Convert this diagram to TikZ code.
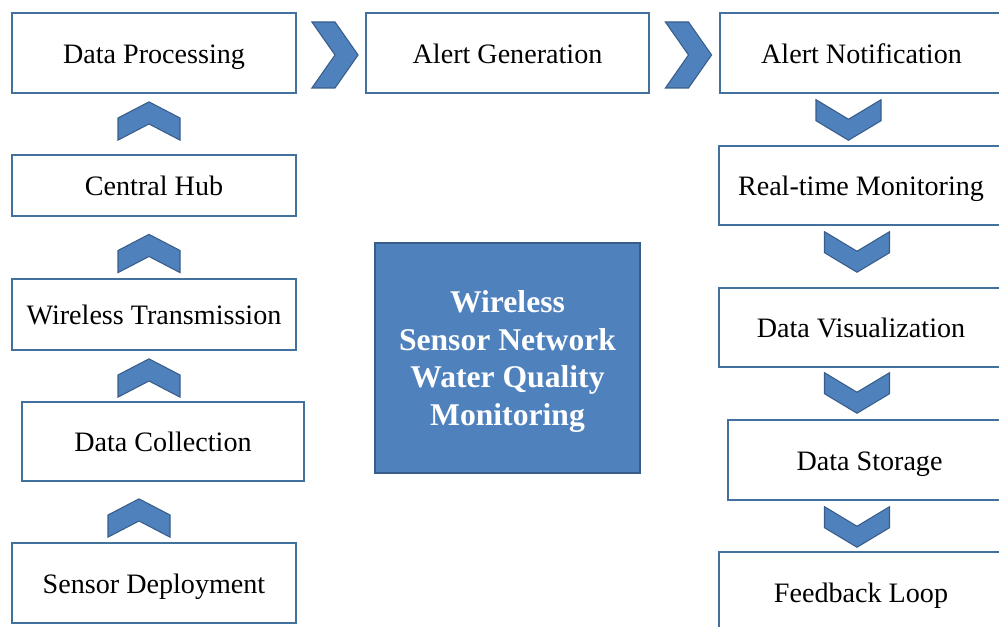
\documentclass[tikz,border=0pt]{standalone}
\usepackage{fontspec}
\setmainfont{Liberation Serif}
\usetikzlibrary{shapes.symbols}
\definecolor{boxline}{HTML}{41719C}
\definecolor{chevblue}{HTML}{4F81BD}
\definecolor{chevline}{HTML}{385D8A}
\begin{document}
\begin{tikzpicture}[
        stepbox/.style={rectangle, draw=boxline, line width=1.2pt, fill=white, minimum width=5.68cm, minimum height=1.6cm, inner sep=0pt, text height=12pt, text depth=0.6pt, font=\fontsize{16}{19}\selectfont},
        corebox/.style={rectangle, draw=chevline, line width=1.2pt, fill=chevblue, minimum width=5.3cm, minimum height=4.6cm, text=white, align=center, text depth=-1pt, font=\fontsize{18}{21.5}\selectfont\bfseries},
        chevron/.style={signal, draw=chevline, fill=chevblue, line width=0.6pt, inner sep=0pt},
        chevup/.style={chevron, signal to=north, signal from=south, minimum width=1.24cm, minimum height=0.12cm, signal pointer angle=125},
        chevdown/.style={chevron, signal to=south, signal from=north, minimum width=1.3cm, minimum height=0.03cm, signal pointer angle=118},
        chevright/.style={chevron, signal to=east, signal from=west, minimum width=0.92cm, minimum height=1.32cm, signal pointer angle=110}
    ]
        \useasboundingbox (0,0) rectangle (19.98,12.54);
        \clip (0,0) rectangle (19.98,12.54);

        % Left column, bottom to top
        \node[stepbox] (sd) at (3.08,0.88) {Sensor Deployment};
        \node[stepbox, minimum width=5.64cm, minimum height=1.58cm] (dc) at (3.26,3.71) {Data Collection};
        \node[stepbox, minimum height=1.42cm] (wt) at (3.08,6.25) {Wireless Transmission};
        \node[stepbox, minimum height=1.22cm] (hub) at (3.08,8.83) {Central Hub};
        \node[stepbox] (dp) at (3.08,11.48) {Data Processing};
        \node[chevup] (up4) at (2.78,2.18) {};
        \node[chevup] (up3) at (2.98,4.98) {};
        \node[chevup] (up2) at (2.98,7.47) {};
        \node[chevup] (up1) at (2.98,10.12) {};

        % Top row
        \node[stepbox, minimum width=5.66cm] (ag) at (10.15,11.48) {Alert Generation};
        \node[stepbox, minimum width=5.66cm] (an) at (17.23,11.48) {Alert Notification};
        \node[chevright] (rt1) at (6.70,11.44) {};
        \node[chevright] (rt2) at (13.77,11.44) {};

        % Right column, top to bottom
        \node[stepbox, minimum height=1.58cm] (rtm) at (17.22,8.83) {Real-time Monitoring};
        \node[stepbox, minimum height=1.58cm] (dv) at (17.22,5.99) {Data Visualization};
        \node[stepbox, minimum width=5.66cm] (ds) at (17.39,3.34) {Data Storage};
        \node[stepbox] (fl) at (17.22,0.70) {Feedback Loop};
        \node[chevdown] (dn1) at (16.97,10.14) {};
        \node[chevdown] (dn2) at (17.14,7.50) {};
        \node[chevdown] (dn3) at (17.14,4.68) {};
        \node[chevdown] (dn4) at (17.14,2.00) {};

        % Title block
        \node[corebox] (core) at (10.15,5.38) {Wireless\\Sensor Network\\Water Quality\\Monitoring};
    \end{tikzpicture}
\end{document}
